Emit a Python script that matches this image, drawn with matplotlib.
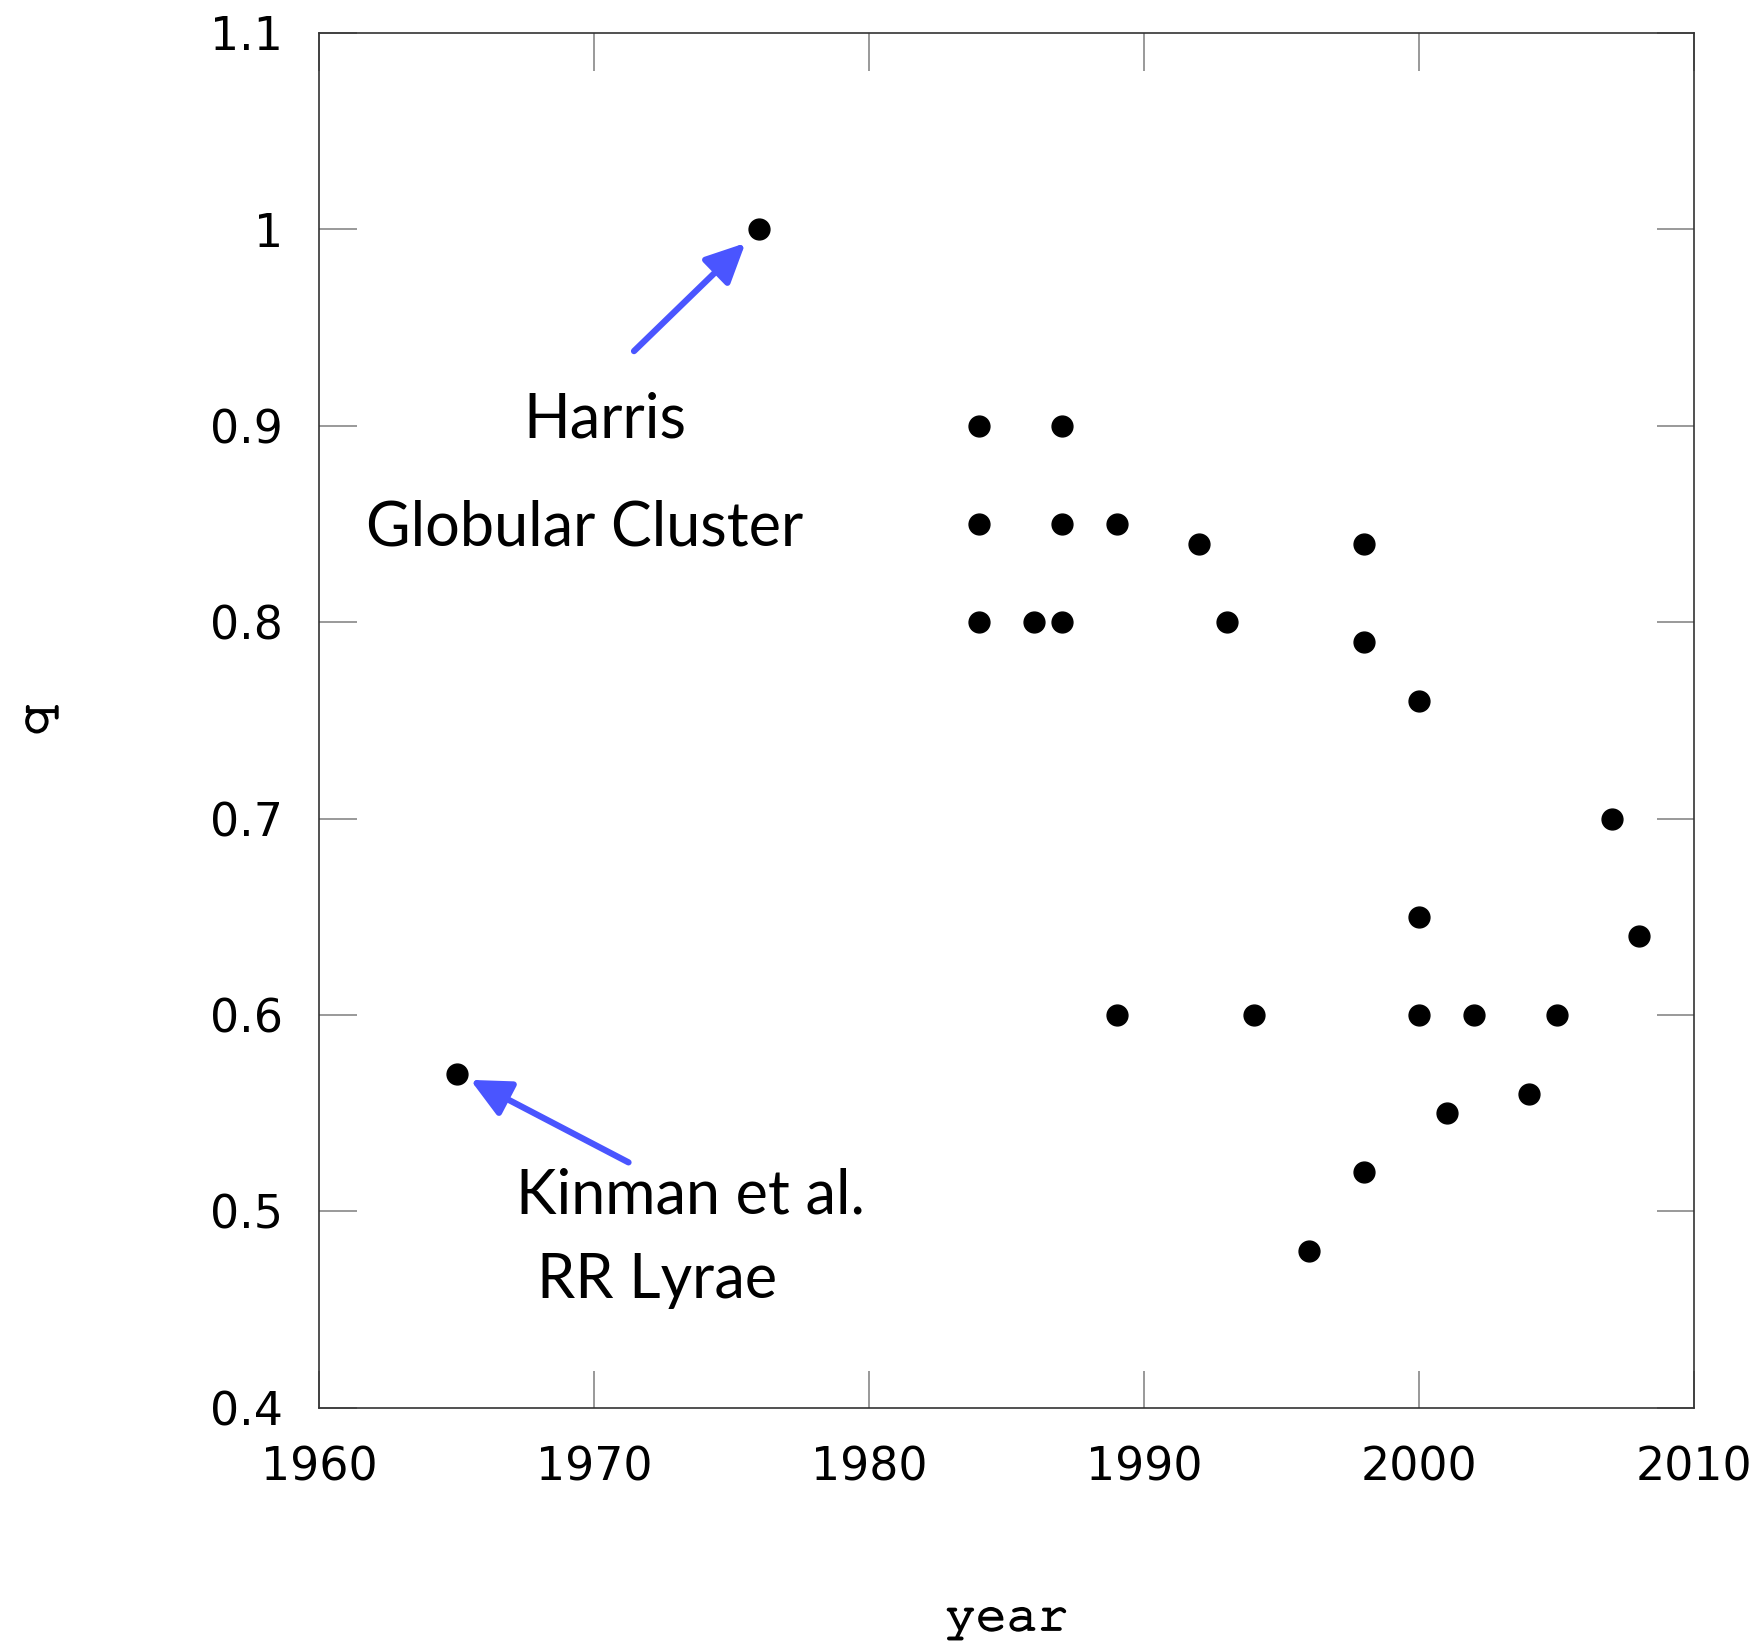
import matplotlib
matplotlib.use("Agg")
import matplotlib.pyplot as plt
import matplotlib.patheffects as pe
from matplotlib import font_manager

# q versus publication year
years = [1965, 1976, 1984, 1984, 1984, 1986, 1987, 1987, 1987, 1989, 1989,
         1992, 1993, 1994, 1996, 1998, 1998, 1998, 2000, 2000, 2000, 2001,
         2002, 2004, 2005, 2007, 2008]
q = [0.57, 1.0, 0.9, 0.85, 0.8, 0.8, 0.9, 0.85, 0.8, 0.85, 0.6,
     0.84, 0.8, 0.6, 0.48, 0.84, 0.79, 0.52, 0.76, 0.65, 0.6, 0.55,
     0.6, 0.56, 0.6, 0.7, 0.64]

xticks = [1960, 1970, 1980, 1990, 2000, 2010]
yticks = [0.4, 0.5, 0.6, 0.7, 0.8, 0.9, 1.0, 1.1]
ytick_labels = ["0.4", "0.5", "0.6", "0.7", "0.8", "0.9", "1", "1.1"]

# a Courier-like face for the axis titles if one is around
installed = {f.name for f in font_manager.fontManager.ttflist}
mono = "Liberation Mono"
for name in ["Courier New", "Nimbus Mono PS", "FreeMono", "Courier"]:
    if name in installed:
        mono = name
        break

fig = plt.figure(figsize=(17.63, 16.44), dpi=100)
ax = fig.add_axes([0.181, 0.1436, 0.780, 0.8364])

ax.plot(years, q, "o", color="black", markersize=15, clip_on=False)

ax.set_xlim(1960, 2010)
ax.set_ylim(0.4, 1.1)
ax.set_xticks(xticks)
ax.set_yticks(yticks)
ax.set_yticklabels(ytick_labels)
ax.tick_params(direction="in", length=27, width=1.2, color="#888888",
               top=True, right=True, labelsize=33)
ax.tick_params(axis="x", pad=27)
ax.tick_params(axis="y", pad=26)
for s in ax.spines.values():
    s.set_color("#333333")
    s.set_linewidth(1.2)

# regular Courier is a bit thin next to the reference, so thicken it slightly
thick = [pe.withStroke(linewidth=1.3, foreground="black")]
ax.set_xlabel("year", fontsize=37, family=mono, path_effects=thick)
ax.set_ylabel("q", fontsize=37, family=mono, path_effects=thick)
ax.xaxis.label.set_va("baseline")
ax.yaxis.label.set_va("center")
ax.xaxis.set_label_coords(0.5, -0.1615)
ax.yaxis.set_label_coords(-0.205, 0.5)

arrow = dict(arrowstyle="-|>,head_length=2.4,head_width=1.15",
             color="#4a55ff", lw=4.5, shrinkA=0, shrinkB=0)
ax.annotate("", xy=(1975.5, 0.993), xytext=(1971.45, 0.938), arrowprops=arrow)
ax.annotate("", xy=(1965.5, 0.567), xytext=(1971.25, 0.525), arrowprops=arrow)

tfont = dict(fontsize=44, family="Lato", ha="center", va="center")
ax.text(1970.4, 0.903, "Harris", **tfont)
ax.text(1969.65, 0.848, "Globular Cluster", **tfont)
ax.text(1973.5, 0.508, "Kinman et al.", **tfont)
ax.text(1972.3, 0.465, "RR Lyrae", **tfont)

fig.savefig("out.png", dpi=100)
